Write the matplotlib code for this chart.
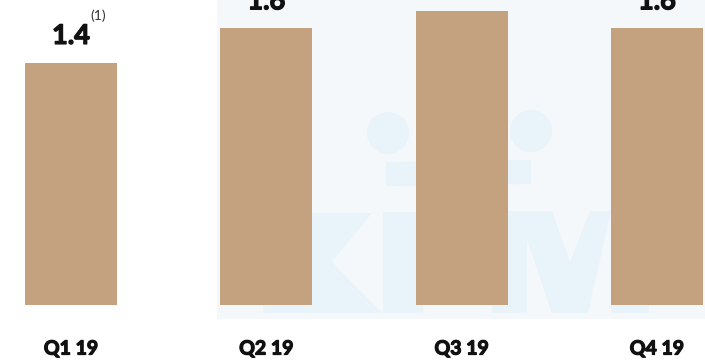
import matplotlib
matplotlib.use("Agg")
import matplotlib.pyplot as plt
import matplotlib.patheffects as pe
from matplotlib.patches import Rectangle, Circle, Polygon

# Quarterly values
quarters = ["Q1 19", "Q2 19", "Q3 19", "Q4 19"]
values = [1.4, 1.6, 1.7, 1.6]
value_labels = ["1.4", "1.6", "1.7", "1.6"]
footnote = "(1)"

BAR_COLOR = "#C4A27F"
PANEL_COLOR = "#F5F8FB"
MARK_COLOR = "#E8F3FA"
TEXT_COLOR = "#111111"
FONT = ["Lato", "DejaVu Sans"]

W, H, DPI = 705, 361, 100
fig = plt.figure(figsize=(W / DPI, H / DPI), dpi=DPI)
fig.patch.set_facecolor("white")

# Background layer in pixel units: light panel with faint logo watermark
bg = fig.add_axes([0, 0, 1, 1], zorder=0)
bg.set_xlim(0, W)
bg.set_ylim(H, 0)
bg.axis("off")
bg.add_patch(Rectangle((217, 0), W - 217, 319, color=PANEL_COLOR, lw=0))
wm = dict(color=MARK_COLOR, lw=0)
# K
bg.add_patch(Polygon([(263, 213), (372, 213), (332, 262), (382, 313), (263, 313)], **wm))
# i
bg.add_patch(Circle((388, 133), 21, **wm))
bg.add_patch(Rectangle((383, 212), 40, 101, **wm))
# bar joining the dots
bg.add_patch(Polygon([(386, 162), (531, 160), (531, 184), (386, 186)], **wm))
bg.add_patch(Circle((531, 131), 21, **wm))
# stem and V
bg.add_patch(Rectangle((492, 211), 35, 102, **wm))
bg.add_patch(Polygon([(527, 211), (552, 211), (570, 262), (590, 211), (611, 211),
                      (588, 313), (552, 313), (527, 240)], **wm))
bg.add_patch(Rectangle((611, 211), 38, 102, **wm))

# Bar chart layer
ax = fig.add_axes([0, 56 / H, 1, 1 - 56 / H], zorder=1)
ax.patch.set_alpha(0)
x = list(range(len(values)))
ax.bar(x, values, width=0.471, color=BAR_COLOR, zorder=2)
ax.set_xlim(-0.3635, 3.246)
ax.set_ylim(0, 1.764)
ax.axis("off")

heavy = [pe.withStroke(linewidth=0.9, foreground=TEXT_COLOR)]
pt = 72 / DPI  # points per pixel
for xi, v, lab in zip(x, values, value_labels):
    ax.annotate(lab, (xi, v), xytext=(0, 15 * pt), textcoords="offset points",
                ha="center", va="bottom", fontsize=19.5, fontweight="bold",
                family=FONT, color=TEXT_COLOR, annotation_clip=False,
                path_effects=heavy)

ax.annotate(footnote, (x[0], values[0]), xytext=(27 * pt, 47 * pt),
            textcoords="offset points", ha="center", va="center",
            fontsize=10, family=FONT, color="#333333")

for xi, q in zip(x, quarters):
    ax.annotate(q, (xi, 0), xycoords=("data", "axes fraction"),
                xytext=(0, -44 * pt), textcoords="offset points",
                ha="center", va="center", fontsize=14, fontweight="bold",
                family=FONT, color=TEXT_COLOR, annotation_clip=False,
                path_effects=heavy)

fig.savefig("out.png", dpi=DPI)
